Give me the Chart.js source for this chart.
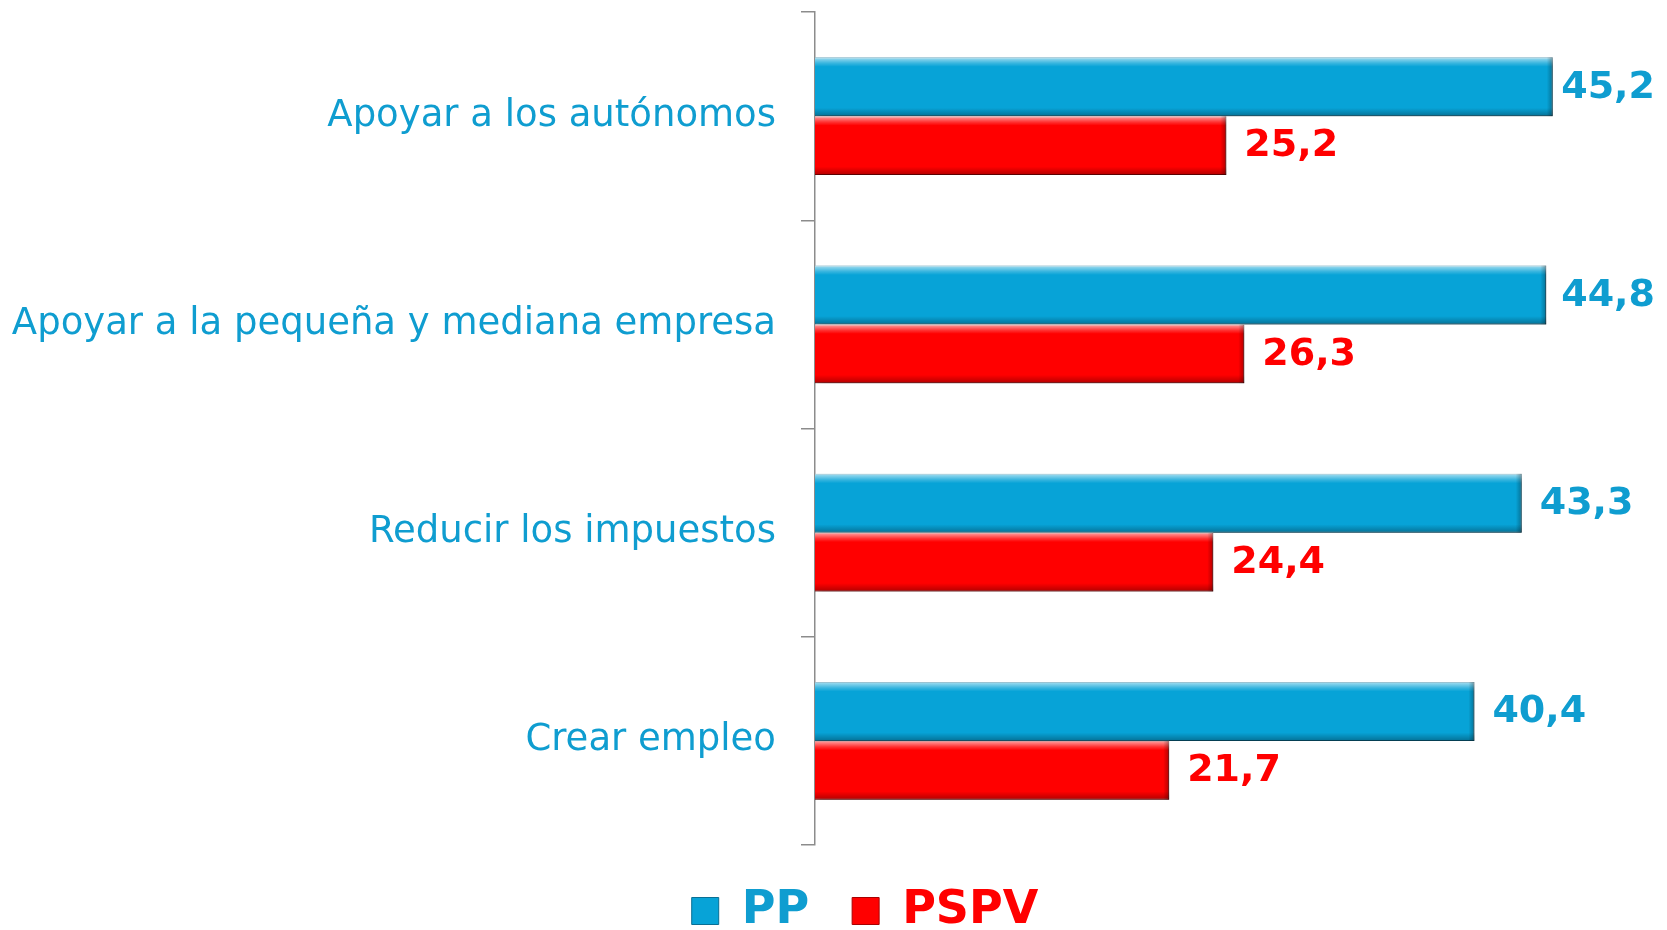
<!DOCTYPE html>
<html>
<head>
<meta charset="utf-8">
<script src="https://cdn.jsdelivr.net/npm/chart.js@4.4.1/dist/chart.umd.min.js"></script>
<style>
  html, body { margin: 0; padding: 0; background: #fff; }
  #wrap { width: 1667px; height: 930px; }
</style>
</head>
<body>
<div id="wrap"><canvas id="barChart" width="1667" height="930"></canvas></div>
<script>
// Data
var categories = ["Apoyar a los autónomos", "Apoyar a la pequeña y mediana empresa", "Reducir los impuestos", "Crear empleo"];
var ppValues = [45.2, 44.8, 43.3, 40.4];
var pspvValues = [25.2, 26.3, 24.4, 21.7];
var seriesNames = ["PP", "PSPV"];

var blue = "#07a3d7";
var blueText = "#0f9dd0";
var red = "#ff0000";

// soft drop shadow under the bars
var shadowPlugin = {
    id: 'barShadow',
    beforeDatasetsDraw: function(chart) {
        var ctx = chart.ctx;
        ctx.save();
        ctx.shadowColor = 'rgba(0,0,0,0.28)';
        ctx.shadowBlur = 6;
        ctx.shadowOffsetX = 3;
        ctx.shadowOffsetY = 4;
    },
    afterDatasetsDraw: function(chart) {
        chart.ctx.restore();
    }
};

// bevel look + value labels
var decoPlugin = {
    id: 'barDeco',
    afterDatasetsDraw: function(chart) {
        var ctx = chart.ctx;
        chart.data.datasets.forEach(function(ds, di) {
            var meta = chart.getDatasetMeta(di);
            meta.data.forEach(function(el, i) {
                var p = el.getProps(['x', 'y', 'base', 'height'], true);
                var top = p.y - p.height / 2, bottom = p.y + p.height / 2;
                var left = p.base, right = p.x;
                ctx.save();
                var g = ctx.createLinearGradient(0, top, 0, bottom);
                g.addColorStop(0, 'rgba(255,255,255,0.65)');
                g.addColorStop(0.1, 'rgba(255,255,255,0.2)');
                g.addColorStop(0.16, 'rgba(255,255,255,0)');
                g.addColorStop(0.86, 'rgba(0,0,0,0)');
                g.addColorStop(1, 'rgba(0,0,0,0.3)');
                ctx.fillStyle = g;
                ctx.fillRect(left, top, right - left, bottom - top);
                var g2 = ctx.createLinearGradient(right - 6, 0, right, 0);
                g2.addColorStop(0, 'rgba(0,0,0,0)');
                g2.addColorStop(1, 'rgba(0,0,0,0.3)');
                ctx.fillStyle = g2;
                ctx.fillRect(right - 6, top, 6, bottom - top);
                ctx.restore();

                ctx.save();
                ctx.font = 'bold 38px "DejaVu Sans"';
                ctx.fillStyle = di === 0 ? blueText : red;
                ctx.textAlign = 'left';
                ctx.textBaseline = 'middle';
                var v = ds.data[i].toFixed(1).replace('.', ',');
                var w = ctx.measureText(v).width;
                var tx = Math.min(right + 18, chart.width - 12 - w);
                ctx.fillText(v, tx, p.y + 1);
                ctx.restore();
            });
        });
    }
};

var ctx = document.getElementById("barChart").getContext("2d");
new Chart(ctx, {
    type: 'bar',
    data: {
        labels: categories,
        datasets: [{
            label: seriesNames[0],
            data: ppValues,
            backgroundColor: blue,
            borderColor: '#0a6f94',
            borderWidth: 1,
            categoryPercentage: 0.565,
            barPercentage: 1.0
        }, {
            label: seriesNames[1],
            data: pspvValues,
            backgroundColor: red,
            borderColor: '#a80000',
            borderWidth: 1,
            categoryPercentage: 0.565,
            barPercentage: 1.0
        }]
    },
    options: {
        indexAxis: 'y',
        responsive: false,
        animation: false,
        layout: {
            padding: { top: 12, left: 0, right: -63, bottom: -14 }
        },
        scales: {
            x: {
                display: false,
                min: 0,
                max: 52.2
            },
            y: {
                afterFit: function(scale) {
                    scale.width = 815;
                    scale.paddingTop = 0;
                    scale.paddingBottom = 0;
                },
                grid: {
                    drawOnChartArea: false,
                    offset: true,
                    tickLength: 14,
                    color: '#8c8c8c',
                    lineWidth: 1.5
                },
                border: { display: true, color: '#8c8c8c', width: 1.5 },
                ticks: {
                    padding: 25,
                    color: blueText,
                    font: { family: '"DejaVu Sans"', size: 37 }
                }
            }
        },
        plugins: {
            tooltip: { enabled: false },
            legend: {
                position: 'bottom',
                labels: {
                    boxWidth: 27,
                    boxHeight: 27,
                    padding: 43,
                    font: { family: '"DejaVu Sans"', size: 46, weight: 'bold' },
                    generateLabels: function(chart) {
                        return chart.data.datasets.map(function(ds, i) {
                            return {
                                text: ds.label,
                                fillStyle: ds.backgroundColor,
                                strokeStyle: ds.borderColor,
                                lineWidth: 1,
                                fontColor: i === 0 ? blueText : red,
                                hidden: false,
                                datasetIndex: i
                            };
                        });
                    }
                }
            }
        }
    },
    plugins: [shadowPlugin, decoPlugin]
});
</script>
</body>
</html>
